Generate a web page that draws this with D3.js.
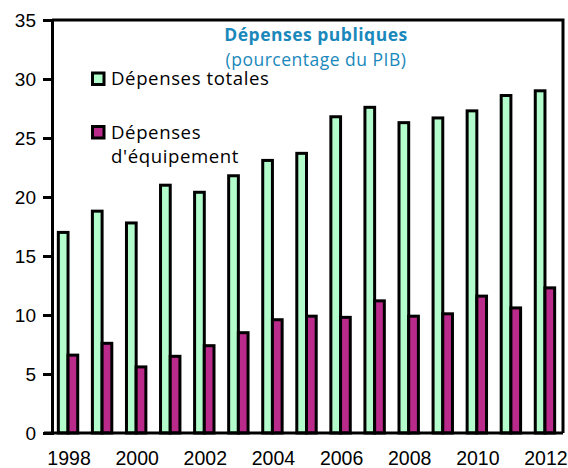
<!DOCTYPE html>
<html>
<head>
<meta charset="utf-8">
<script src="https://cdn.jsdelivr.net/npm/d3@7"></script>
<style>
  body { margin: 0; background: #fff; }
  svg { display: block; }
</style>
</head>
<body>
<svg></svg>
<script>
const width = 568;
const height = 468;

// data
const years = d3.range(1998, 2013);
const totales = [17.0, 18.8, 17.8, 21.0, 20.4, 21.8, 23.1, 23.7, 26.8, 27.6, 26.3, 26.7, 27.3, 28.6, 29.0];
const equipement = [6.6, 7.6, 5.6, 6.5, 7.4, 8.5, 9.6, 9.9, 9.8, 11.2, 9.9, 10.1, 11.6, 10.6, 12.3];
const yTicks = [0, 5, 10, 15, 20, 25, 30, 35];
const xLabels = [1998, 2000, 2002, 2004, 2006, 2008, 2010, 2012];

const series = [
  { key: "totales", values: totales, fill: "#b3fdcc" },
  { key: "equipement", values: equipement, fill: "#b92a8a" }
];

const margin = { top: 20, right: 5, bottom: 35, left: 52 };

const svg = d3.select("svg")
  .attr("width", width)
  .attr("height", height);

const x0 = d3.scaleBand()
  .domain(years)
  .range([margin.left, width - margin.right]);

const groupW = 19.4;
const x1 = d3.scaleBand()
  .domain(series.map(s => s.key))
  .range([0, groupW]);

const y = d3.scaleLinear()
  .domain([0, 35])
  .range([height - margin.bottom, margin.top]);

// bars
const groups = svg.append("g")
  .selectAll("g")
  .data(years)
  .join("g")
  .attr("transform", d => `translate(${x0(d) + (x0.bandwidth() - groupW) / 2 - 1},0)`);

groups.selectAll("rect")
  .data((d, i) => series.map(s => ({ key: s.key, value: s.values[i], fill: s.fill })))
  .join("rect")
  .attr("x", d => x1(d.key))
  .attr("y", d => y(d.value))
  .attr("width", x1.bandwidth())
  .attr("height", d => y(0) - y(d.value))
  .attr("fill", d => d.fill)
  .attr("stroke", "#000")
  .attr("stroke-width", 3);

// frame (top and right)
svg.append("path")
  .attr("d", `M${margin.left},${margin.top}H${width - margin.right}V${y(0)}`)
  .attr("fill", "none")
  .attr("stroke", "#000")
  .attr("stroke-width", 3);

const axisFont = "Liberation Sans, Arial, sans-serif";

// y axis
const yAxis = svg.append("g")
  .attr("transform", `translate(${margin.left},0)`)
  .call(d3.axisLeft(y).tickValues(yTicks).tickSize(9).tickPadding(7));
yAxis.select(".domain").attr("stroke-width", 3);
yAxis.selectAll(".tick line").attr("stroke-width", 3);
yAxis.selectAll(".tick text")
  .attr("font-family", axisFont)
  .attr("font-size", 19)
  .attr("fill", "#000");

// x axis
const xAxis = svg.append("g")
  .attr("transform", `translate(0,${y(0)})`)
  .call(d3.axisBottom(x0).tickValues(xLabels).tickSize(0).tickPadding(18).tickSizeOuter(0));
xAxis.select(".domain")
  .attr("stroke-width", 3)
  .attr("d", `M${margin.left - 8},0H${width - margin.right}`);
xAxis.selectAll(".tick text")
  .attr("font-family", axisFont)
  .attr("font-size", 19.5)
  .attr("fill", "#000");

// title
const titleFont = "Open Sans, Noto Sans, sans-serif";
svg.append("text")
  .attr("x", 316)
  .attr("y", 41)
  .attr("text-anchor", "middle")
  .attr("font-family", titleFont)
  .attr("font-weight", "bold")
  .attr("font-size", 17.5)
  .attr("letter-spacing", 0.5)
  .attr("fill", "#1a88bb")
  .text("Dépenses publiques");
svg.append("text")
  .attr("x", 316)
  .attr("y", 66)
  .attr("text-anchor", "middle")
  .attr("font-family", titleFont)
  .attr("font-size", 17.5)
  .attr("letter-spacing", 0.5)
  .attr("fill", "#1a88bb")
  .text("(pourcentage du PIB)");

// legend
const legend = [
  { lines: ["Dépenses totales"], fill: series[0].fill, y: 73 },
  { lines: ["Dépenses", "d'équipement"], fill: series[1].fill, y: 126.5 }
];
const lg = svg.append("g").selectAll("g")
  .data(legend)
  .join("g");
lg.append("rect")
  .attr("x", 92.5)
  .attr("y", d => d.y)
  .attr("width", 11.5)
  .attr("height", 11.5)
  .attr("fill", d => d.fill)
  .attr("stroke", "#000")
  .attr("stroke-width", 3);
lg.append("text")
  .attr("font-family", titleFont)
  .attr("font-size", 18.6)
  .attr("letter-spacing", 0.6)
  .attr("fill", "#000")
  .selectAll("tspan")
  .data(d => d.lines.map((t, i) => ({ t, i, y: d.y })))
  .join("tspan")
  .attr("x", 111)
  .attr("y", d => d.y + 12 + d.i * 24)
  .text(d => d.t);
</script>
</body>
</html>
